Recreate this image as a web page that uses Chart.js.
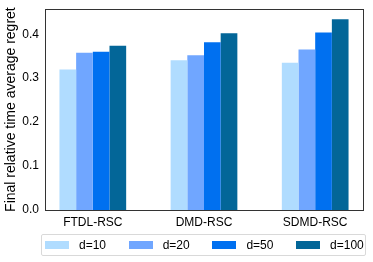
<!DOCTYPE html>
<html>
<head>
<meta charset="utf-8">
<script src="https://cdn.jsdelivr.net/npm/chart.js@4"></script>
<style>
  html, body { margin: 0; padding: 0; background: #fff; }
  #wrap { position: relative; width: 373px; height: 262px; }
  #legend {
    position: absolute; left: 41px; top: 234px; width: 323px; height: 20px;
    border: 1px solid #d9d9d9; border-radius: 2px;
    display: flex; align-items: center;
    font-family: 'Liberation Sans', Arial, sans-serif; font-size: 12px; color: #000;
  }
  #legend .item { display: flex; align-items: center; width: 83.7px; flex: none; }
  #legend .item:first-child { margin-left: 3px; }
  #legend .sw { width: 24px; height: 8px; margin-right: 10px; }
</style>
</head>
<body>
<div id="wrap">
  <canvas id="chart" width="373" height="262"></canvas>
  <div id="legend"></div>
</div>
<script>
const methods = ["FTDL-RSC", "DMD-RSC", "SDMD-RSC"];
const dimLabels = ["d=10", "d=20", "d=50", "d=100"];
const dimColors = ["#b0dcff", "#70a6ff", "#0070f0", "#036698"];

// final relative time average regret, per method, one array per d
const regretD10 = [0.320, 0.341, 0.335];
const regretD20 = [0.358, 0.352, 0.365];
const regretD50 = [0.360, 0.382, 0.404];
const regretD100 = [0.374, 0.402, 0.434];
const yTicks = [0, 0.1, 0.2, 0.3, 0.4];

const allSeries = [regretD10, regretD20, regretD50, regretD100];
const font = "'Liberation Sans', Arial, sans-serif";

// box round the plot area
const framePlugin = {
    id: "frame",
    afterDraw(chart) {
        const c = chart.ctx;
        const a = chart.chartArea;
        c.save();
        c.strokeStyle = "#333";
        c.lineWidth = 1;
        c.strokeRect(Math.round(a.left) + 0.5, Math.round(a.top) + 0.5,
                     Math.round(a.right - a.left), Math.round(a.bottom - a.top));
        c.restore();
    }
};

const chart = new Chart(document.getElementById("chart"), {
    type: "bar",
    data: {
        datasets: allSeries.map((vals, k) => ({
            label: dimLabels[k],
            data: vals.map((v, i) => ({ x: i, y: v })),
            backgroundColor: dimColors[k],
            borderWidth: 0,
            barPercentage: 1.0,
            categoryPercentage: 0.6
        }))
    },
    options: {
        responsive: false,
        animation: false,
        devicePixelRatio: 1,
        layout: { padding: { top: 5, right: 10, left: 0, bottom: 32 } },
        plugins: {
            tooltip: { enabled: false },
            legend: { display: false }
        },
        scales: {
            x: {
                type: "linear",
                min: -0.43,
                max: 2.43,
                offset: false,
                grid: { display: false, drawTicks: true, tickLength: 4, tickColor: "#333" },
                border: { display: false },
                afterBuildTicks(scale) {
                    scale.ticks = methods.map((m, i) => ({ value: i }));
                },
                afterFit(scale) { scale.height = 20; },
                ticks: {
                    color: "#000",
                    padding: 1,
                    maxRotation: 0,
                    autoSkip: false,
                    font: { family: font, size: 12 },
                    callback: (v) => methods[v]
                }
            },
            y: {
                min: 0,
                max: 0.457,
                afterBuildTicks(scale) {
                    scale.ticks = yTicks.map(v => ({ value: v }));
                },
                afterFit(scale) { scale.width = 45; },
                grid: { display: false, drawTicks: true, tickLength: 4, tickColor: "#333" },
                border: { display: false },
                ticks: {
                    color: "#000",
                    padding: 2,
                    font: { family: font, size: 12 },
                    callback: (v) => v.toFixed(1)
                },
                title: {
                    display: true,
                    text: "Final relative time average regret",
                    color: "#000",
                    padding: { top: 3, bottom: 0 },
                    font: { family: font, size: 14 }
                }
            }
        }
    },
    plugins: [framePlugin]
});

// html legend from the datasets
const legendEl = document.getElementById("legend");
chart.data.datasets.forEach(ds => {
    const item = document.createElement("div");
    item.className = "item";
    const sw = document.createElement("span");
    sw.className = "sw";
    sw.style.background = ds.backgroundColor;
    const txt = document.createElement("span");
    txt.textContent = ds.label;
    item.appendChild(sw);
    item.appendChild(txt);
    legendEl.appendChild(item);
});
</script>
</body>
</html>
